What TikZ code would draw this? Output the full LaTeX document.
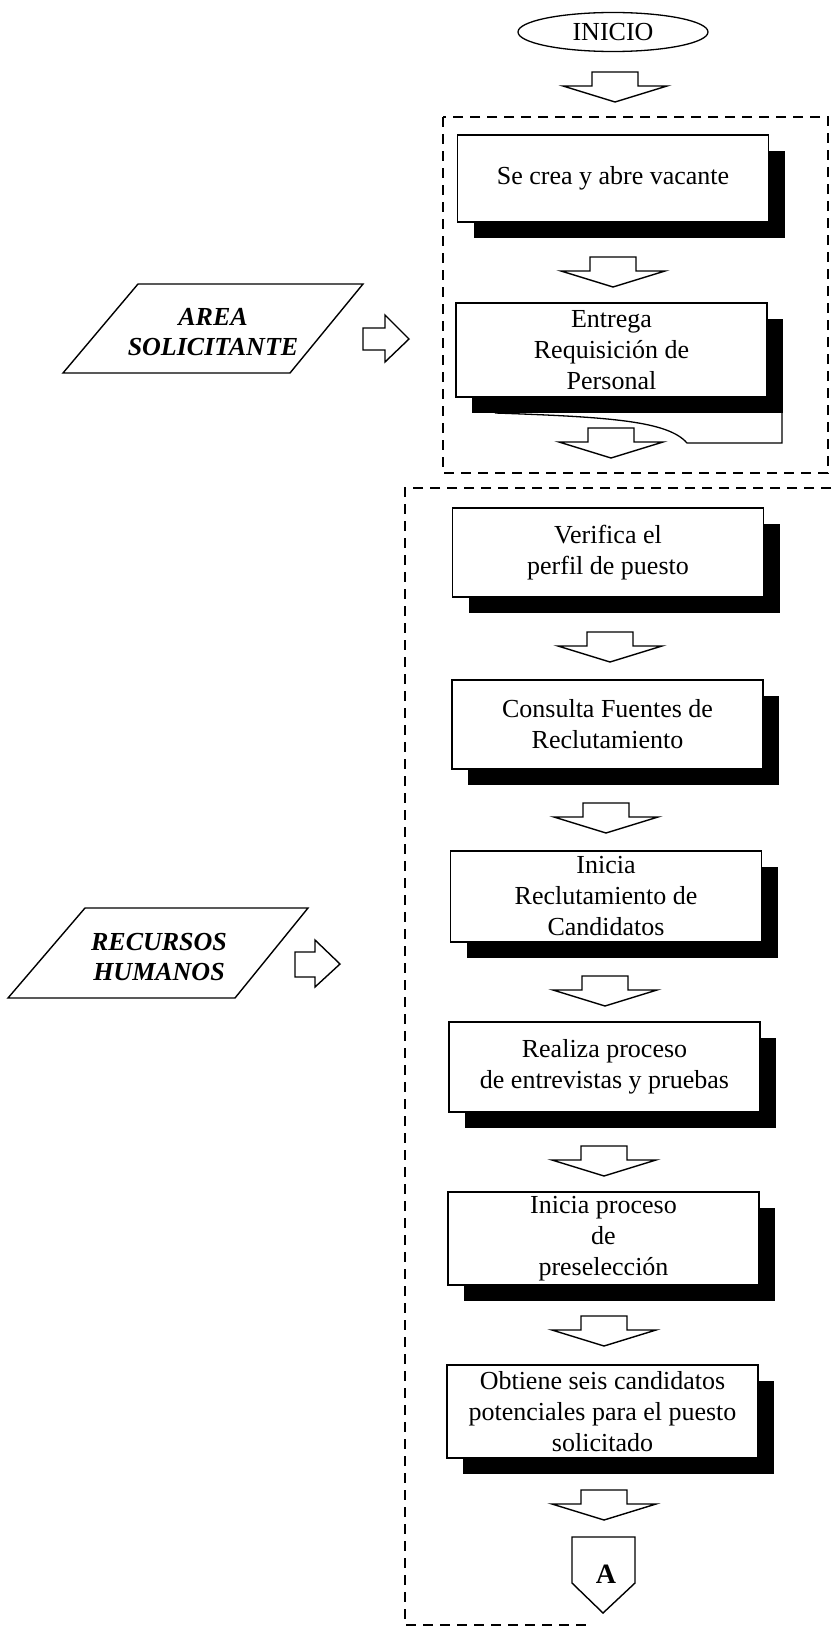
\documentclass[tikz,border=0pt]{standalone}
\usepackage{fontspec}
\setmainfont{Liberation Serif}
\usetikzlibrary{shapes.geometric,shadows}
\tikzset{
  txt/.style={font=\fontsize{26}{31}\selectfont},
  procbox/.style={txt, draw, line width=1.4pt, fill=white, align=center, inner sep=0pt,
    minimum width=311pt, minimum height=90pt,
    drop shadow={shadow xshift=16pt, shadow yshift=-16pt, fill=black, opacity=1}},
  dbox/.style={draw, line width=1.6pt, dash pattern=on 10pt off 7pt},
  blk/.style={draw, line width=1.4pt, fill=white, line join=miter},
  para/.style={draw, line width=1.4pt, line join=miter},
  paratext/.style={font=\fontsize{26}{30}\selectfont\bfseries\itshape, align=center, inner sep=0pt},
  darrow/.pic={\path[blk] (-23,0) -- (23,0) -- (23,14) -- (52,14) -- (0,30) -- (-52,14) -- (-23,14) -- cycle;},
}
\begin{document}
\begin{tikzpicture}[x=1pt,y=-1pt]
\useasboundingbox (0,0) rectangle (831,1627);

% dashed group boxes
\draw[dbox] (443,117) rectangle (828,473);
\draw[dbox] (831,488) -- (405,488) -- (405,1625) -- (590,1625);

% start
\node[txt, draw, ellipse, line width=1.3pt, minimum width=190pt, minimum height=39pt, inner sep=0pt] (inicio) at (613,32) {INICIO};

% process boxes
\node[procbox, minimum height=87pt] (n1) at (613,178.5) {Se crea y abre vacante};
\node[procbox, minimum height=94pt] (n2) at (611.5,350) {Entrega\\Requisición de\\Personal};
\node[procbox, minimum height=89pt] (n3) at (608,552.5) {Verifica el\\perfil de puesto};
\node[procbox, minimum height=89pt] (n4) at (607.5,724.5) {Consulta Fuentes de\\Reclutamiento};
\node[procbox, minimum height=91pt] (n5) at (606,896.5) {Inicia\\Reclutamiento de\\Candidatos};
\node[procbox, minimum height=90pt] (n6) at (604.5,1067) {Realiza proceso\\de entrevistas y pruebas};
\node[procbox, minimum height=93pt] (n7) at (603.5,1238.5) {Inicia proceso\\de\\preselección};
\node[procbox, minimum height=93pt] (n8) at (602.5,1411.5) {Obtiene seis candidatos\\potenciales para el puesto\\solicitado};

% document tail under "Entrega"
\draw[line width=1.3pt] (495,413) .. controls (610,417) and (668,421) .. (687,443) -- (782,443) -- (782,413);

% block arrows down
\pic at (615,72) {darrow};
\pic at (613,257) {darrow};
\pic at (611,428) {darrow};
\pic at (610,632) {darrow};
\pic at (606,803) {darrow};
\pic at (605,976) {darrow};
\pic at (604,1146) {darrow};
\pic at (604,1316) {darrow};
\pic at (604,1490) {darrow};

% off-page connector
\draw[blk] (572,1537) -- (635,1537) -- (635,1583) -- (603,1613) -- (572,1583) -- cycle;
\node[font=\fontsize{28}{30}\selectfont\bfseries, inner sep=0pt] (conA) at (606,1574) {A};

% area solicitante
\draw[para] (138,284) -- (363,284) -- (290,373) -- (63,373) -- cycle;
\node[paratext] (area) at (213,332) {AREA\\SOLICITANTE};
\draw[blk] (363,328) -- (385,328) -- (385,315) -- (409,339) -- (385,362) -- (385,350) -- (363,350) -- cycle;

% recursos humanos
\draw[para] (85,908) -- (308,908) -- (235,998) -- (8,998) -- cycle;
\node[paratext] (rh) at (159,957) {RECURSOS\\HUMANOS};
\draw[blk] (295,952) -- (315,952) -- (315,940) -- (340,964) -- (315,987) -- (315,977) -- (295,977) -- cycle;
\end{tikzpicture}
\end{document}
